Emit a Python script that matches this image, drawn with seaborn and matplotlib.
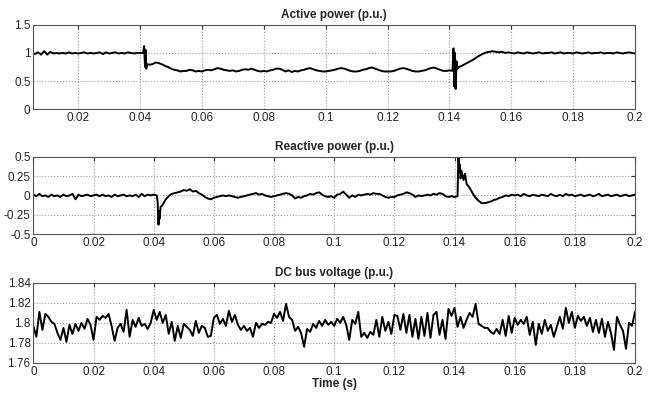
import numpy as np
import pandas as pd
import matplotlib
matplotlib.use("Agg")
import matplotlib.pyplot as plt
from matplotlib.ticker import FuncFormatter
import seaborn as sns

# ---------------- data ----------------
p_time = [0.005, 0.006, 0.007, 0.008, 0.009, 0.010, 0.011, 0.012, 0.013, 0.014,
          0.015, 0.016, 0.017, 0.018, 0.019, 0.020, 0.021, 0.022, 0.023, 0.024,
          0.025, 0.026, 0.027, 0.028, 0.029, 0.030, 0.031, 0.032, 0.033, 0.034,
          0.035, 0.036, 0.037, 0.038, 0.039, 0.040, 0.041, 0.0413, 0.0416, 0.0418,
          0.042, 0.0423, 0.043, 0.044, 0.045, 0.046, 0.047, 0.048, 0.049, 0.050,
          0.051, 0.052, 0.053, 0.054, 0.055, 0.056, 0.057, 0.058, 0.059, 0.060,
          0.061, 0.062, 0.063, 0.064, 0.065, 0.066, 0.067, 0.068, 0.069, 0.070,
          0.071, 0.072, 0.073, 0.074, 0.075, 0.076, 0.077, 0.078, 0.079, 0.080,
          0.081, 0.082, 0.083, 0.084, 0.085, 0.086, 0.087, 0.088, 0.089, 0.090,
          0.091, 0.092, 0.093, 0.094, 0.095, 0.096, 0.097, 0.098, 0.099, 0.100,
          0.101, 0.102, 0.103, 0.104, 0.105, 0.106, 0.107, 0.108, 0.109, 0.110,
          0.111, 0.112, 0.113, 0.114, 0.115, 0.116, 0.117, 0.118, 0.119, 0.120,
          0.121, 0.122, 0.123, 0.124, 0.125, 0.126, 0.127, 0.128, 0.129, 0.130,
          0.131, 0.132, 0.133, 0.134, 0.135, 0.136, 0.137, 0.138, 0.139, 0.140,
          0.141, 0.1413, 0.1416, 0.1418, 0.142, 0.1423, 0.1426, 0.143, 0.144, 0.145,
          0.146, 0.147, 0.148, 0.149, 0.150, 0.151, 0.152, 0.153, 0.154, 0.155,
          0.156, 0.157, 0.158, 0.159, 0.160, 0.161, 0.162, 0.163, 0.164, 0.165,
          0.166, 0.167, 0.168, 0.169, 0.170, 0.171, 0.172, 0.173, 0.174, 0.175,
          0.176, 0.177, 0.178, 0.179, 0.180, 0.181, 0.182, 0.183, 0.184, 0.185,
          0.186, 0.187, 0.188, 0.189, 0.190, 0.191, 0.192, 0.193, 0.194, 0.195,
          0.196, 0.197, 0.198, 0.199, 0.200]
p_value = [1.00, 0.98, 1.01, 0.97, 1.03, 0.97, 1.02, 0.99, 1.00, 0.99,
           1.00, 0.99, 1.01, 0.99, 1.00, 0.99, 1.00, 1.01, 0.99, 1.00,
           0.99, 1.00, 1.01, 0.98, 1.01, 0.99, 1.00, 1.01, 0.99, 1.00,
           0.99, 1.01, 1.00, 0.99, 1.00, 1.00, 1.00, 1.12, 0.75, 1.05,
           0.72, 0.80, 0.79, 0.80, 0.83, 0.82, 0.80, 0.77, 0.75, 0.72,
           0.70, 0.69, 0.67, 0.68, 0.68, 0.70, 0.69, 0.67, 0.68, 0.67,
           0.69, 0.70, 0.69, 0.71, 0.73, 0.72, 0.70, 0.69, 0.68, 0.69,
           0.67, 0.68, 0.70, 0.71, 0.70, 0.72, 0.70, 0.68, 0.67, 0.68,
           0.67, 0.69, 0.70, 0.72, 0.72, 0.70, 0.67, 0.69, 0.66, 0.68,
           0.67, 0.69, 0.70, 0.72, 0.73, 0.71, 0.69, 0.68, 0.67, 0.67,
           0.68, 0.69, 0.70, 0.72, 0.73, 0.72, 0.70, 0.68, 0.67, 0.67,
           0.68, 0.70, 0.71, 0.73, 0.74, 0.72, 0.70, 0.68, 0.67, 0.67,
           0.67, 0.68, 0.70, 0.72, 0.73, 0.72, 0.70, 0.68, 0.67, 0.67,
           0.68, 0.69, 0.71, 0.73, 0.74, 0.72, 0.70, 0.68, 0.68, 0.69,
           0.68, 1.08, 0.40, 1.00, 0.36, 0.85, 0.72, 0.75, 0.77, 0.80,
           0.83, 0.86, 0.89, 0.93, 0.96, 0.99, 1.01, 1.02, 1.03, 1.02,
           1.01, 1.02, 1.00, 1.01, 1.00, 0.99, 1.01, 1.00, 0.99, 1.01,
           1.00, 0.99, 1.00, 1.01, 0.99, 1.00, 1.00, 1.01, 0.99, 1.00,
           1.01, 0.99, 1.00, 1.00, 0.99, 1.01, 1.00, 0.99, 1.00, 1.01,
           0.99, 1.00, 1.00, 1.01, 0.99, 1.00, 1.00, 0.99, 1.01, 1.00,
           0.99, 1.00, 1.01, 1.00, 0.99]

q_time = [0.000, 0.001, 0.002, 0.003, 0.004, 0.005, 0.006, 0.007, 0.008, 0.009,
          0.010, 0.011, 0.012, 0.013, 0.014, 0.015, 0.016, 0.017, 0.018, 0.019,
          0.020, 0.021, 0.022, 0.023, 0.024, 0.025, 0.026, 0.027, 0.028, 0.029,
          0.030, 0.031, 0.032, 0.033, 0.034, 0.035, 0.036, 0.037, 0.038, 0.039,
          0.040, 0.041, 0.0413, 0.0416, 0.0418, 0.042, 0.0423, 0.043, 0.044, 0.045,
          0.046, 0.047, 0.048, 0.049, 0.050, 0.051, 0.052, 0.053, 0.054, 0.055,
          0.056, 0.057, 0.058, 0.059, 0.060, 0.061, 0.062, 0.063, 0.064, 0.065,
          0.066, 0.067, 0.068, 0.069, 0.070, 0.071, 0.072, 0.073, 0.074, 0.075,
          0.076, 0.077, 0.078, 0.079, 0.080, 0.081, 0.082, 0.083, 0.084, 0.085,
          0.086, 0.087, 0.088, 0.089, 0.090, 0.091, 0.092, 0.093, 0.094, 0.095,
          0.096, 0.097, 0.098, 0.099, 0.100, 0.101, 0.102, 0.103, 0.104, 0.105,
          0.106, 0.107, 0.108, 0.109, 0.110, 0.111, 0.112, 0.113, 0.114, 0.115,
          0.116, 0.117, 0.118, 0.119, 0.120, 0.121, 0.122, 0.123, 0.124, 0.125,
          0.126, 0.127, 0.128, 0.129, 0.130, 0.131, 0.132, 0.133, 0.134, 0.135,
          0.136, 0.137, 0.138, 0.139, 0.140, 0.141, 0.1413, 0.1416, 0.1418, 0.142,
          0.1423, 0.143, 0.1435, 0.144, 0.145, 0.146, 0.147, 0.148, 0.149, 0.150,
          0.151, 0.152, 0.153, 0.154, 0.155, 0.156, 0.157, 0.158, 0.159, 0.160,
          0.161, 0.162, 0.163, 0.164, 0.165, 0.166, 0.167, 0.168, 0.169, 0.170,
          0.171, 0.172, 0.173, 0.174, 0.175, 0.176, 0.177, 0.178, 0.179, 0.180,
          0.181, 0.182, 0.183, 0.184, 0.185, 0.186, 0.187, 0.188, 0.189, 0.190,
          0.191, 0.192, 0.193, 0.194, 0.195, 0.196, 0.197, 0.198, 0.199, 0.200]
q_value = [0.01, -0.01, 0.02, -0.01, 0.00, -0.02, 0.01, -0.01, 0.00, -0.02,
           0.01, -0.01, 0.00, 0.02, -0.05, 0.01, -0.01, 0.00, 0.01, -0.01,
           0.00, 0.01, -0.01, 0.01, -0.01, 0.00, -0.02, 0.01, -0.01, 0.00,
           0.01, -0.01, 0.00, -0.01, 0.01, -0.02, 0.02, -0.01, 0.01, 0.00,
           0.01, 0.00, -0.08, -0.38, -0.20, -0.30, -0.15, -0.12, -0.05, -0.01,
           0.02, 0.03, 0.04, 0.05, 0.07, 0.06, 0.08, 0.05, 0.06, 0.03,
           0.01, -0.02, -0.04, -0.05, -0.03, -0.02, -0.01, 0.00, -0.01, 0.00,
           -0.01, -0.02, -0.03, -0.02, -0.01, 0.00, 0.01, 0.02, 0.03, 0.01,
           0.02, 0.00, -0.01, -0.02, -0.01, 0.00, 0.01, 0.02, 0.03, 0.02,
           0.00, -0.04, -0.02, -0.03, -0.01, 0.00, 0.02, 0.01, 0.03, 0.04,
           0.01, -0.01, -0.02, -0.01, -0.03, 0.01, 0.02, 0.05, 0.01, -0.03,
           0.00, -0.02, 0.01, 0.00, 0.01, 0.02, 0.01, 0.03, 0.02, 0.02,
           0.00, -0.02, -0.03, -0.02, -0.02, 0.00, 0.01, 0.02, 0.04, 0.03,
           0.01, -0.02, 0.00, -0.01, 0.00, 0.01, 0.00, 0.02, 0.01, 0.03,
           0.02, -0.01, -0.02, -0.01, -0.02, -0.01, 0.52, 0.30, 0.40, 0.22,
           0.32, 0.20, 0.28, 0.15, 0.10, 0.03, -0.03, -0.07, -0.10, -0.10,
           -0.09, -0.08, -0.06, -0.05, -0.03, -0.02, 0.00, -0.01, 0.01, 0.00,
           0.01, -0.01, 0.02, 0.00, -0.01, 0.01, 0.00, -0.01, 0.01, 0.00,
           -0.01, 0.02, 0.00, -0.01, 0.01, -0.01, 0.02, 0.00, 0.01, -0.01,
           0.00, 0.01, -0.01, 0.00, 0.01, -0.01, 0.00, 0.02, -0.01, 0.00,
           0.01, -0.01, 0.00, 0.01, -0.01, 0.00, 0.01, -0.01, 0.00, 0.01]

dc_value = [1.797, 1.786, 1.811, 1.793, 1.809, 1.806, 1.801, 1.799, 1.790, 1.783,
            1.795, 1.781, 1.798, 1.789, 1.799, 1.792, 1.800, 1.794, 1.804, 1.798,
            1.783, 1.806, 1.803, 1.807, 1.805, 1.809, 1.797, 1.782, 1.795, 1.799,
            1.791, 1.813, 1.786, 1.803, 1.796, 1.805, 1.797, 1.799, 1.794, 1.800,
            1.813, 1.803, 1.811, 1.800, 1.808, 1.789, 1.801, 1.782, 1.797, 1.785,
            1.799, 1.796, 1.793, 1.787, 1.802, 1.790, 1.797, 1.795, 1.786, 1.787,
            1.805, 1.808, 1.799, 1.804, 1.797, 1.812, 1.801, 1.808, 1.798, 1.793,
            1.797, 1.792, 1.795, 1.786, 1.800, 1.795, 1.799, 1.798, 1.801, 1.800,
            1.809, 1.805, 1.811, 1.802, 1.819, 1.806, 1.803, 1.792, 1.796, 1.790,
            1.776, 1.794, 1.791, 1.799, 1.795, 1.802, 1.797, 1.803, 1.798, 1.801,
            1.797, 1.804, 1.800, 1.806, 1.798, 1.783, 1.803, 1.799, 1.811, 1.786,
            1.790, 1.785, 1.791, 1.788, 1.803, 1.786, 1.806, 1.792, 1.801, 1.789,
            1.808, 1.807, 1.793, 1.809, 1.790, 1.808, 1.786, 1.804, 1.784, 1.806,
            1.787, 1.810, 1.785, 1.808, 1.811, 1.788, 1.803, 1.784, 1.814, 1.807,
            1.815, 1.796, 1.806, 1.795, 1.803, 1.810, 1.806, 1.819, 1.799, 1.797,
            1.795, 1.795, 1.791, 1.789, 1.794, 1.789, 1.803, 1.787, 1.807, 1.790,
            1.805, 1.798, 1.803, 1.799, 1.806, 1.788, 1.801, 1.778, 1.799, 1.789,
            1.803, 1.792, 1.798, 1.786, 1.796, 1.806, 1.794, 1.815, 1.800, 1.811,
            1.795, 1.807, 1.802, 1.806, 1.797, 1.805, 1.791, 1.803, 1.790, 1.804,
            1.786, 1.801, 1.790, 1.773, 1.806, 1.798, 1.792, 1.774, 1.800, 1.797,
            1.811]
dc_time = np.linspace(0.0, 0.2, len(dc_value))

titles = ["Active power (p.u.)", "Reactive power (p.u.)", "DC bus voltage (p.u.)"]
x_label = "Time (s)"
yticks_p = [0, 0.5, 1, 1.5]
yticks_q = [-0.5, -0.25, 0, 0.25, 0.5]
yticks_dc = [1.76, 1.78, 1.8, 1.82, 1.84]
xticks_p = [0.02, 0.04, 0.06, 0.08, 0.1, 0.12, 0.14, 0.16, 0.18, 0.2]
xticks_full = [0, 0.02, 0.04, 0.06, 0.08, 0.1, 0.12, 0.14, 0.16, 0.18, 0.2]

# ---------------- style ----------------
sns.set_style("white")
plt.rcParams["font.family"] = ["Liberation Sans", "DejaVu Sans"]

fig = plt.figure(figsize=(6.54, 3.94), dpi=100)
L, W = 0.051, 0.920
ax1 = fig.add_axes([L, 0.723, W, 0.214])
ax2 = fig.add_axes([L, 0.406, W, 0.196])
ax3 = fig.add_axes([L, 0.079, W, 0.203])

fmt = FuncFormatter(lambda v, pos: "%g" % round(v, 4))

df_p = pd.DataFrame({"t": p_time, "v": p_value})
df_q = pd.DataFrame({"t": q_time, "v": q_value})
df_dc = pd.DataFrame({"t": dc_time, "v": dc_value})

specs = [
    (ax1, df_p, (0.0055, 0.2), (0, 1.5), xticks_p, yticks_p, titles[0]),
    (ax2, df_q, (0, 0.2), (-0.5, 0.5), xticks_full, yticks_q, titles[1]),
    (ax3, df_dc, (0, 0.2), (1.76, 1.84), xticks_full, yticks_dc, titles[2]),
]

for ax, df, xl, yl, xt, yt, title in specs:
    sns.lineplot(data=df, x="t", y="v", ax=ax, color="black", linewidth=1.4,
                 estimator=None, sort=False)
    ax.set_xlim(*xl)
    ax.set_ylim(*yl)
    ax.set_xticks(xt)
    ax.set_yticks(yt)
    ax.xaxis.set_major_formatter(fmt)
    ax.yaxis.set_major_formatter(fmt)
    ax.grid(True, color="#9a9a9a", linestyle=":", linewidth=0.8)
    ax.tick_params(direction="in", length=3, labelsize=8.5, pad=2,
                   top=True, right=True, color="#333333")
    for s in ax.spines.values():
        s.set_color("#555555")
        s.set_linewidth(0.8)
    ax.set_xlabel("")
    ax.set_ylabel("")
    ax.set_title(title, fontsize=8.5, fontweight="bold", pad=5)

ax3.set_xlabel(x_label, fontsize=8.5, fontweight="bold", labelpad=0)

fig.savefig("out.png", dpi=100, facecolor="white")
